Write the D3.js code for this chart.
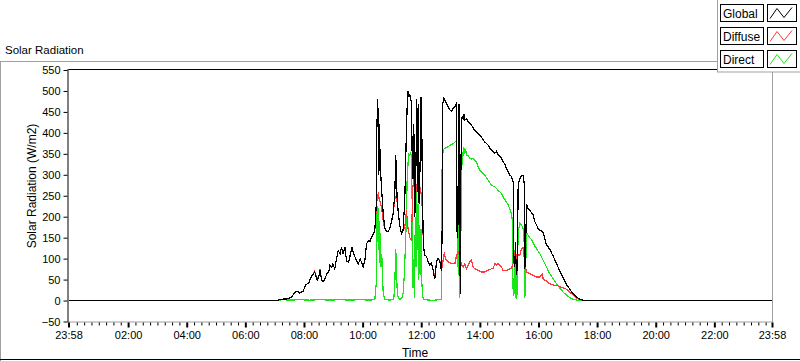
<!DOCTYPE html>
<html><head><meta charset="utf-8">
<script src="https://cdn.jsdelivr.net/npm/d3@7/dist/d3.min.js"></script>
<style>
html,body{margin:0;padding:0;background:#fff;}
svg{display:block;font-family:"Liberation Sans",Arial,sans-serif;}
</style></head>
<body>
<svg id="c" width="800" height="361"></svg>
<script>
// time in minutes since midnight (23:58 of previous day = -2), values in W/m2
const seriesNames = ["Global", "Diffuse", "Direct"];
const seriesColors = ["#000000", "#ff3a3a", "#19e619"];
const yTicks = [-50,0,50,100,150,200,250,300,350,400,450,500,550];
const xTickMinutes = [-2,120,240,360,480,600,720,840,960,1080,1200,1320,1438];
const xTickLabels = ["23:58","02:00","04:00","06:00","08:00","10:00","12:00","14:00","16:00","18:00","20:00","22:00","23:58"];

const globalData = [[-2,0],[410,0],[426,0],[431,3],[447,4],[455,8],[461,20],[467,22],[471,18],[478,22],[484,38],[490,42],[494,55],[498,62],[502,68],[507,48],[511,60],[513,72],[516,48],[519,45],[523,52],[527,64],[531,70],[533,84],[537,80],[539,88],[543,75],[546,95],[550,119],[554,112],[557,127],[560,112],[564,127],[567,95],[571,91],[574,105],[578,127],[581,115],[584,105],[588,95],[591,87],[595,99],[598,91],[601,80],[605,99],[608,135],[612,143],[615,141],[618,151],[622,158],[625,168],[628,230],[629,400],[630.7,480],[631.9,440],[633.3,300],[634.5,420],[635.9,330],[637.2,300],[638.6,270],[641.9,212],[645.4,172],[648.9,165],[652.2,164],[655.6,172],[659.1,188],[662.4,207],[665.9,255],[667.9,347],[670.6,245],[673,210],[676.1,180],[679.6,160],[682.8,168],[686.3,238],[689.8,410],[691.4,470],[693.1,500],[694.9,485],[696.6,492],[698.6,480],[700,470],[701.7,330],[703.4,290],[704.8,420],[706.9,200],[708.9,300],[711,480],[712.7,260],[714.1,470],[715.7,230],[717.6,320],[719.3,485],[720.7,470],[722.1,300],[724,150],[725.7,120],[727.4,108],[730.9,105],[734.1,93],[737.6,85],[741.1,89],[744.4,72],[746.2,60],[747.9,52],[751.3,93],[754.6,100],[758.1,93],[761.5,70],[763.2,200],[764.2,470],[766.3,483],[768.3,478],[771.8,470],[775.1,462],[778.6,455],[782,452],[785.4,458],[788.9,463],[792.3,470],[793.5,150],[795,250],[796.2,180],[797.4,470],[798.6,200],[799.9,15],[801.1,300],[802.5,427],[804.1,440],[805.8,432],[807.2,445],[809.3,430],[812.7,434],[816,427],[819.5,422],[823,418],[826.2,412],[829.7,406],[833.2,402],[836.5,398],[840,394],[843.4,390],[846.7,384],[850.2,378],[853.6,375],[856.9,371],[860.4,364],[863.9,358],[867.1,355],[870.6,351],[874.1,356],[877.4,347],[880.9,345],[884.3,339],[887.6,331],[891.1,325],[894.6,315],[897.9,307],[901.4,299],[904.8,296],[908.1,283],[909.6,93],[911.6,80],[912.9,140],[913.7,100],[915.7,60],[917.8,200],[918.4,275],[921.9,291],[925.4,299],[928.6,299],[930.7,280],[932.1,76],[933.5,120],[935.6,231],[938.9,219],[942.3,215],[945.8,210],[949.1,204],[952.5,188],[956,180],[959.3,172],[962.8,168],[966.2,166],[969.5,162],[973,148],[976.5,132],[979.7,128],[983.2,122],[990,106],[997,88],[1003.7,70],[1010.5,54],[1017.4,38],[1024.2,27],[1031,16],[1038,8],[1044.7,3],[1051.5,1],[1055,0],[1438,0]];

const diffuseData = [[-2,0],[410,0],[426,0],[431,3],[447,4],[455,8],[461,20],[467,22],[471,18],[478,22],[484,38],[490,42],[494,55],[498,62],[502,70],[507,50],[511,60],[513,74],[516,50],[519,45],[523,52],[527,64],[531,70],[533,84],[537,80],[539,88],[543,75],[546,95],[550,119],[554,112],[557,127],[560,112],[564,127],[567,95],[571,91],[574,105],[578,127],[581,115],[584,105],[588,95],[591,87],[595,99],[598,91],[601,80],[605,99],[608,135],[612,143],[615,141],[618,151],[622,158],[625,168],[628.3,225],[630.3,250],[631.9,255],[634.3,240],[637.2,230],[640.7,205],[643.4,180],[645.4,172],[648.9,165],[652.2,164],[655.6,172],[659.1,188],[662.4,207],[665.9,240],[667.9,250],[670.6,235],[673,210],[676.1,180],[679.6,160],[682.8,168],[686.3,175],[689.8,215],[693.1,170],[696.6,150],[700,145],[702.8,270],[704.8,290],[706.9,230],[708.9,280],[711,260],[714.1,300],[716.1,240],[718.2,270],[720.3,250],[722.1,220],[724,150],[725.7,120],[727.4,108],[730.9,105],[734.1,93],[737.6,85],[741.1,89],[744.4,72],[746.2,62],[747.9,60],[751.3,93],[754.6,100],[758.1,95],[761.5,72],[764.8,96],[767.3,115],[769.3,100],[775.1,92],[782,88],[788.9,88],[792.3,108],[795.6,116],[799,108],[802.5,84],[805.8,80],[809.3,88],[812.7,76],[816,84],[819.5,92],[823,96],[826.2,80],[829.7,76],[836.5,72],[843.4,68],[850.2,68],[856.9,72],[863.9,76],[867.1,76],[870.6,88],[874.1,84],[877.4,88],[880.9,84],[884.3,80],[887.6,72],[894.6,72],[901.4,76],[904.8,78],[908.1,88],[911.6,117],[913.7,90],[915.7,110],[921.9,108],[925.4,124],[928.6,126],[932.1,88],[935.6,68],[942.3,64],[949.1,60],[956,56],[962.8,56],[968.3,64],[969.5,52],[976.5,46],[983.2,40],[990,37],[997,36],[1003.7,33],[1010.5,30],[1017.4,27],[1024.2,20],[1031,13],[1038,5],[1044.7,2],[1051.5,0],[1438,0]];

const directData = [[-2,0],[410,0],[426,0],[435,2],[451,1],[471,2],[492,1],[513,2],[533,1],[554,2],[574,1],[595,2],[615,1],[625,2],[627.9,40],[628.9,230],[629.9,140],[631.3,225],[632.5,120],[633.9,190],[635.3,90],[636.5,160],[637.8,80],[639.3,110],[640.7,60],[642.3,15],[645.4,3],[655.6,1],[663.8,3],[665.9,40],[667.9,124],[669.6,60],[671,20],[672.6,8],[676.1,3],[680.2,5],[683.2,20],[685.3,60],[687.3,120],[689.8,200],[691,283],[693.1,330],[694.5,350],[696.6,347],[698.6,352],[700,343],[701.3,250],[702.1,120],[703.4,30],[704.8,100],[706.1,5],[707.9,200],[709.3,80],[710.6,270],[712,120],[713.5,230],[715.1,50],[716.8,180],[718.2,60],[719.7,170],[721.3,40],[723.3,8],[725.3,2],[737.6,1],[747.9,1],[758.1,2],[761.5,3],[762.8,323],[764.8,360],[771.8,365],[778.6,370],[785.4,374],[788.9,378],[791.9,380],[792.9,250],[794.1,80],[795.4,200],[796.6,60],[797.8,150],[799,5],[800.3,100],[801.7,200],[803.7,355],[805.8,345],[807.2,365],[809.3,350],[810.9,362],[812.7,347],[816,345],[819.5,340],[823,338],[826.2,340],[829.7,334],[833.2,331],[836.5,318],[840,311],[843.4,307],[846.7,303],[850.2,299],[853.6,293],[856.9,287],[860.4,281],[863.9,275],[867.1,273],[870.6,271],[874.1,267],[877.4,263],[880.9,259],[884.3,255],[887.6,247],[891.1,241],[894.6,235],[897.9,228],[901.4,219],[904.8,207],[906.5,190],[907.9,30],[909.6,10],[911.6,120],[912.9,5],[914.3,60],[915.7,3],[917.4,100],[918.4,164],[921.9,184],[925.4,180],[928.6,172],[930.5,150],[932.1,5],[933.7,60],[935.2,164],[938.9,156],[942.3,150],[945.8,145],[949.1,138],[952.5,130],[956,124],[959.3,118],[962.8,112],[966.2,104],[969.5,96],[973,88],[976.5,80],[979.7,72],[983.2,64],[990,52],[997,40],[1003.7,30],[1010.5,20],[1017.4,13],[1024.2,7],[1031,3],[1038,1],[1044.7,0],[1438,0]];

const svg = d3.select("#c");
const L = 68.5, R = 772, T = 70, B = 321.5;
const x = d3.scaleLinear().domain([-2, 1438]).range([L, R]);
const y = d3.scaleLinear().domain([-50, 550]).range([B, T]);

// outer frame
svg.append("line").attr("x1",0).attr("x2",717).attr("y1",61.5).attr("y2",61.5).attr("stroke","#a0a0a0");
svg.append("line").attr("x1",0.5).attr("x2",0.5).attr("y1",61.5).attr("y2",361).attr("stroke","#a0a0a0");
svg.append("line").attr("x1",0).attr("x2",800).attr("y1",359.5).attr("y2",359.5).attr("stroke","#000");

svg.append("text").attr("x",5).attr("y",54).attr("font-size",11.5).attr("fill","#000").text("Solar Radiation");

// plot area border
svg.append("line").attr("x1",L).attr("x2",R).attr("y1",B+0.5).attr("y2",B+0.5).attr("stroke","#a0a0a0");
svg.append("line").attr("x1",R+0.5).attr("x2",R+0.5).attr("y1",T).attr("y2",B+1).attr("stroke","#a0a0a0");

const plot = svg.append("g");
const line = d3.line().x(d => x(d[0])).y(d => y(d[1]));
const order = [[directData,2],[diffuseData,1],[globalData,0]];
order.forEach(([data,i]) => {
  plot.append("path").datum(data).attr("d", line).attr("fill","none")
    .attr("stroke", seriesColors[i]).attr("stroke-width", 1.2).attr("shape-rendering","crispEdges");
});

svg.append("line").attr("x1",L).attr("x2",R+1).attr("y1",T-0.5).attr("y2",T-0.5).attr("stroke","#000");
svg.append("line").attr("x1",L-0.5).attr("x2",L-0.5).attr("y1",T-1).attr("y2",B+1).attr("stroke","#000");

// y axis
const yAxis = d3.axisLeft(y).tickValues(yTicks).tickSize(4).tickPadding(3).tickFormat(d3.format("d"));
const gy = svg.append("g").attr("transform",`translate(${L-1},0)`).call(yAxis);
gy.select(".domain").remove();
gy.selectAll("text").attr("font-size",11).attr("fill","#000").attr("font-family","Liberation Sans, Arial, sans-serif");

// x axis minor ticks
const minor = d3.range(0, 1440, 15).filter(m => m % 120 !== 0);
svg.append("g").attr("transform",`translate(0,${B+1})`).call(d3.axisBottom(x).tickValues(minor).tickSize(3).tickFormat(""))
  .call(g => g.select(".domain").remove());
const xAxis = d3.axisBottom(x).tickValues(xTickMinutes).tickSize(5).tickPadding(4).tickFormat((d,i) => xTickLabels[i]);
const gx = svg.append("g").attr("transform",`translate(0,${B+1})`).call(xAxis);
gx.select(".domain").remove();
gx.selectAll("line").attr("stroke-width",2);
gx.selectAll("text").attr("font-size",11).attr("fill","#000").attr("font-family","Liberation Sans, Arial, sans-serif");

svg.append("text").attr("x",415).attr("y",357).attr("text-anchor","middle").attr("font-size",12).text("Time");
svg.append("text").attr("transform","translate(36,186) rotate(-90)").attr("text-anchor","middle").attr("font-size",12).text("Solar Radiation (W/m2)");

// legend
const lg = svg.append("g");
lg.append("rect").attr("x",717.5).attr("y",-1).attr("width",90).attr("height",73).attr("fill","#fff").attr("stroke","#a0a0a0");
seriesNames.forEach((n,i) => {
  const ty = 4.5 + i*23;
  lg.append("rect").attr("x",720.5).attr("y",ty).attr("width",43).attr("height",17).attr("fill","#fff").attr("stroke","#000");
  lg.append("text").attr("x",723).attr("y",ty+13).attr("font-size",12).text(n);
  lg.append("rect").attr("x",767.5).attr("y",ty).attr("width",29).attr("height",17).attr("fill","#fff").attr("stroke","#000");
  lg.append("path").attr("d",`M770,${ty+14} L777,${ty+4} L784,${ty+13} L792,${ty+3}`).attr("fill","none").attr("stroke",seriesColors[i]).attr("stroke-width",1);
});
</script>
</body></html>
